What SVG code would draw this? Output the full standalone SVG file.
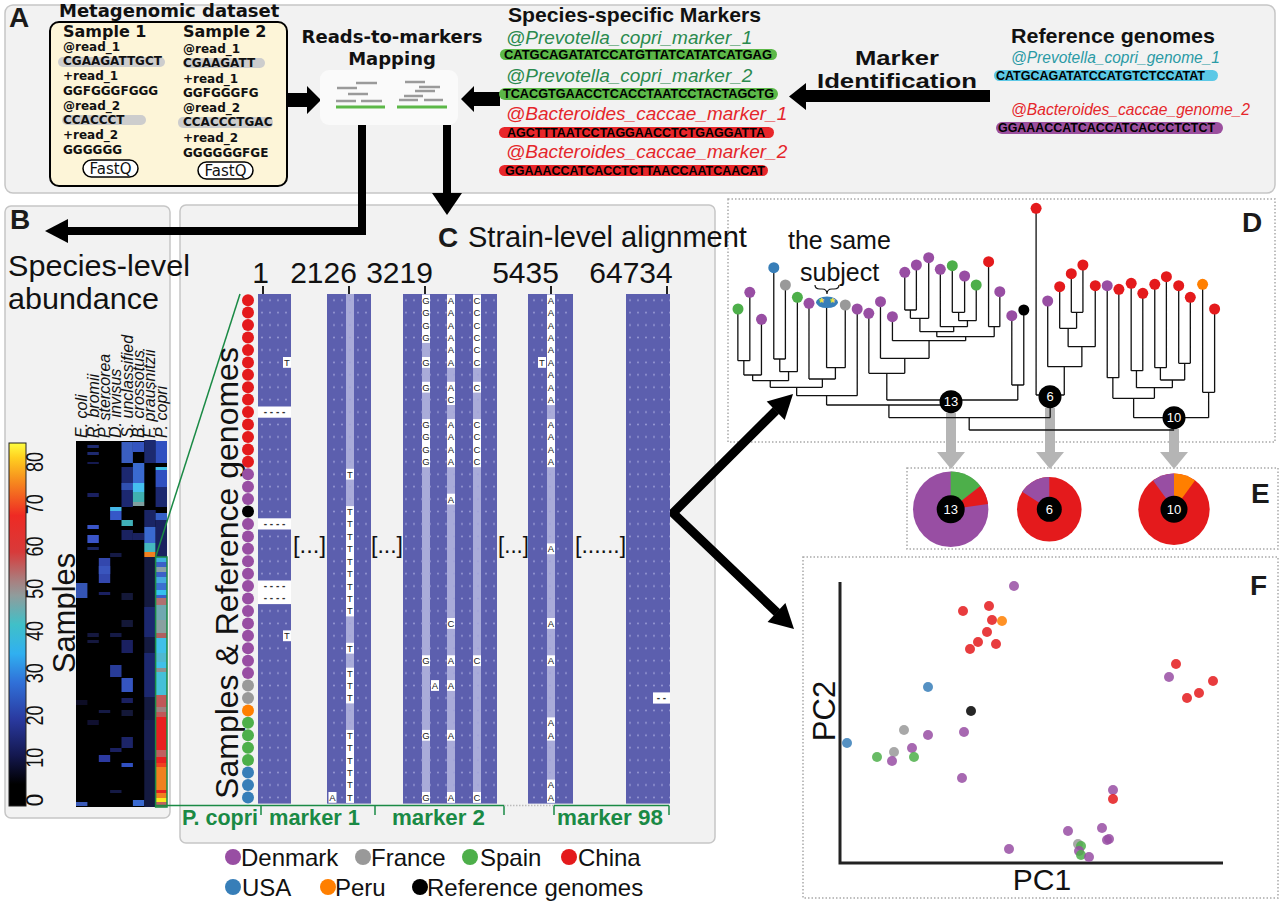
<svg xmlns="http://www.w3.org/2000/svg" width="1280" height="903" viewBox="0 0 1280 903">
<defs>
<style>
.panel{fill:#f2f2f2;stroke:#c6c6c6;stroke-width:1.5}
.dotbox{fill:none;stroke:#a9a9a9;stroke-width:1.5;stroke-dasharray:1.5 2}
.plab{font-family:"Liberation Sans",Arial,sans-serif;font-weight:bold;font-size:28px;fill:#1a1a1a}
.dj{font-family:"DejaVu Sans",sans-serif;font-weight:bold;fill:#111}
.ls{font-family:"Liberation Sans",Arial,sans-serif;fill:#111}
.lsb{font-family:"Liberation Sans",Arial,sans-serif;font-weight:bold;fill:#111}
.it{font-family:"Liberation Sans",Arial,sans-serif;font-style:italic}
.seq{font-family:"Liberation Sans",Arial,sans-serif;font-weight:bold;font-size:12.5px;fill:#000}
.blk{fill:#5c5fae}
.lc{fill:#a9abd9}
.wc{fill:#fff}
.let{font-family:"Liberation Sans",Arial,sans-serif;font-size:9.5px;fill:#222;text-anchor:middle}
.gap{font-family:"Liberation Sans",Arial,sans-serif;font-size:10px;fill:#333;text-anchor:middle;font-weight:bold}
.tree{fill:none;stroke:#111;stroke-width:1.3}
.grn{font-family:"Liberation Sans",Arial,sans-serif;font-weight:bold;font-size:22px;fill:#1a8a45}
.leg{font-family:"Liberation Sans",Arial,sans-serif;font-size:24px;fill:#111}
.num{font-family:"Liberation Sans",Arial,sans-serif;font-size:30px;fill:#111;text-anchor:middle}
.cb{font-family:"Liberation Sans",Arial,sans-serif;font-size:23px;fill:#111;text-anchor:middle}
.sp{font-family:"Liberation Sans",Arial,sans-serif;font-style:italic;font-size:16px;fill:#111}
.nd{font-family:"Liberation Sans",Arial,sans-serif;font-size:13px;fill:#fff;text-anchor:middle}
.gray{fill:#b5b5b5}
.pr{fill:#984ea3}.rd{fill:#e41a1c}.gn{fill:#4daf4a}.bl{fill:#377eb8}.or{fill:#ff7f00}.gy{fill:#999999}.bk{fill:#000}
.pts circle{fill-opacity:0.85}
</style>
<pattern id="dots" x="258" y="294" width="8" height="12.43" patternUnits="userSpaceOnUse"><circle cx="4" cy="6.2" r="0.9" fill="#9fa1d8"/></pattern>
<linearGradient id="cbar" x1="0" y1="0" x2="0" y2="1">
<stop offset="0" stop-color="#ffff40"/><stop offset="0.04" stop-color="#ffd020"/><stop offset="0.1" stop-color="#f7901e"/><stop offset="0.2" stop-color="#ee2a24"/><stop offset="0.3" stop-color="#d83a3a"/><stop offset="0.38" stop-color="#a88080"/><stop offset="0.42" stop-color="#909c9c"/><stop offset="0.5" stop-color="#40c0c8"/><stop offset="0.58" stop-color="#30b0f0"/><stop offset="0.66" stop-color="#3070d8"/><stop offset="0.76" stop-color="#2a3aa0"/><stop offset="0.86" stop-color="#141850"/><stop offset="0.94" stop-color="#000"/><stop offset="1" stop-color="#000"/>
</linearGradient>
</defs>
<rect width="1280" height="903" fill="#fff"/>

<!-- Panels -->
<rect id="panel-A" class="panel" x="5" y="5" width="1270" height="188" rx="8"/>
<rect id="panel-B" class="panel" x="5" y="206" width="165" height="612" rx="6"/>
<rect id="panel-C" class="panel" x="180" y="205" width="535" height="638" rx="6"/>
<rect id="panel-D" class="dotbox" x="728" y="199" width="547" height="243"/>
<rect id="panel-E" class="dotbox" x="907" y="468" width="371" height="81"/>
<rect id="panel-F" class="dotbox" x="803" y="557" width="475" height="341"/>

<text class="plab" x="9" y="27">A</text>
<text class="plab" x="10" y="229">B</text>
<text class="plab" x="1242" y="232" font-size="26">D</text>
<text class="plab" x="1251" y="503">E</text>
<text class="plab" x="1250" y="595">F</text>

<!-- connectors -->
<g id="connectors">
<polygon points="288,93 307,93 307,86 321,100 307,114 307,107 288,107" fill="#000"/>
<polygon points="500,92 474,92 474,86 461,99 474,112 474,106 500,106" fill="#000"/>
<polygon points="990,90 806,90 806,83 789,96.5 806,110 806,102 990,102" fill="#000"/>
<path d="M362,125V231H66" fill="none" stroke="#000" stroke-width="8"/>
<polygon points="68,219 45,231 68,243" fill="#000"/>
<path d="M447,125V194" fill="none" stroke="#000" stroke-width="8"/>
<polygon points="432,193 462,193 447,215" fill="#000"/>
<path d="M776,410.5L673,513L777,612.5" fill="none" stroke="#000" stroke-width="9"/>
<polygon points="793,394 766.7,401.4 784.7,420" fill="#000"/>
<polygon points="794,629 767.6,622.1 785.4,603.1" fill="#000"/>
<rect class="gray" x="946" y="413" width="10" height="40"/><polygon class="gray" points="937,452 965,452 951,469"/>
<rect class="gray" x="1045" y="408" width="10" height="45"/><polygon class="gray" points="1036,452 1064,452 1050,469"/>
<rect class="gray" x="1169" y="429" width="10" height="24"/><polygon class="gray" points="1160,452 1188,452 1174,469"/>
</g>

<!-- Metagenomic dataset -->
<g id="node-metagenomic">
<text class="dj" x="59" y="17" font-size="18">Metagenomic dataset</text>
<rect x="50" y="22" width="237" height="164" rx="9" fill="#fdf5d8" stroke="#000" stroke-width="2"/>
<rect x="58" y="57" width="107" height="10" rx="5" fill="#cdcdcd"/>
<rect x="62" y="115" width="84" height="10" rx="5" fill="#cdcdcd"/>
<rect x="183" y="58" width="82" height="10" rx="5" fill="#cdcdcd"/>
<rect x="178" y="117" width="95" height="11" rx="5" fill="#cdcdcd"/>
<text class="dj" x="63" y="37" font-size="16">Sample 1</text>
<text class="dj" x="183" y="37" font-size="16">Sample 2</text>
<g class="dj" font-size="12">
<text x="63" y="51">@read_1</text><text x="63" y="65">CGAAGATTGCT</text><text x="63" y="80">+read_1</text><text x="63" y="95">GGFGGGFGGG</text><text x="63" y="110">@read_2</text><text x="63" y="124">CCACCCT</text><text x="63" y="139">+read_2</text><text x="63" y="154">GGGGGG</text>
<text x="183" y="53">@read_1</text><text x="183" y="67">CGAAGATT</text><text x="183" y="83">+read_1</text><text x="183" y="97">GGFGGGFG</text><text x="183" y="112">@read_2</text><text x="183" y="126">CCACCCTGAC</text><text x="183" y="142">+read_2</text><text x="183" y="157">GGGGGGFGE</text>
</g>
<rect x="83" y="160" width="55" height="17" rx="8.5" fill="#fff" stroke="#000" stroke-width="1.5"/>
<rect x="198" y="162" width="55" height="17" rx="8.5" fill="#fff" stroke="#000" stroke-width="1.5"/>
<text x="110.5" y="174" font-family="DejaVu Sans,sans-serif" font-size="15" text-anchor="middle" fill="#111">FastQ</text>
<text x="225.5" y="176" font-family="DejaVu Sans,sans-serif" font-size="15" text-anchor="middle" fill="#111">FastQ</text>
</g>

<!-- Mapping -->
<g id="node-mapping">
<text class="dj" x="392" y="43" font-size="18" text-anchor="middle">Reads-to-markers</text>
<text class="dj" x="392" y="65" font-size="18" text-anchor="middle">Mapping</text>
<rect x="320" y="70" width="138" height="55" rx="9" fill="#fafafa"/>
<g stroke="#9a9a9a" stroke-width="2.5">
<path d="M356,83H377M337,88H357M348,94H368M336,101H356M361,101H382"/>
<path d="M405,82H425M419,87H440M415,91H435M404,96H423M399,100H418M424,100H443"/>
</g>
<g stroke="#5cb848" stroke-width="3"><path d="M336,107H385M397,107H447"/></g>
</g>

<!-- Markers -->
<g id="node-markers">
<text class="lsb" x="508" y="22" font-size="21" textLength="253" lengthAdjust="spacingAndGlyphs">Species-specific Markers</text>
<text class="it" x="506" y="44" font-size="19" fill="#2a8a4e">@Prevotella_copri_marker_1</text>
<rect x="500" y="49" width="277" height="11" rx="5.5" fill="#5cb848"/>
<text class="seq" x="504" y="58.5" textLength="268" lengthAdjust="spacingAndGlyphs">CATGCAGATATCCATGTTATCATATCATGAG</text>
<text class="it" x="506" y="82" font-size="19" fill="#2a8a4e">@Prevotella_copri_marker_2</text>
<rect x="499" y="88" width="279" height="12" rx="6" fill="#5cb848"/>
<text class="seq" x="503" y="98" textLength="271" lengthAdjust="spacingAndGlyphs">TCACGTGAACCTCACCTAATCCTACTAGCTG</text>
<text class="it" x="506" y="120" font-size="19" fill="#e5262b">@Bacteroides_caccae_marker_1</text>
<rect x="499" y="127" width="275" height="11" rx="5.5" fill="#e8262a"/>
<text class="seq" x="507" y="136.5" textLength="258" lengthAdjust="spacingAndGlyphs">AGCTTTAATCCTAGGAACCTCTGAGGATTA</text>
<text class="it" x="506" y="158" font-size="19" fill="#e5262b">@Bacteroides_caccae_marker_2</text>
<rect x="499" y="165" width="269" height="11" rx="5.5" fill="#e8262a"/>
<text class="seq" x="505" y="174.5" textLength="260" lengthAdjust="spacingAndGlyphs">GGAAACCATCACCTCTTAACCAATCAACAT</text>
</g>

<g id="node-marker-identification">
<text class="lsb" x="897" y="65" font-size="21" text-anchor="middle" textLength="84" lengthAdjust="spacingAndGlyphs">Marker</text>
<text class="lsb" x="897" y="88" font-size="21" text-anchor="middle" textLength="160" lengthAdjust="spacingAndGlyphs">Identification</text>
</g>

<g id="node-reference">
<text class="lsb" x="1011" y="43" font-size="21" textLength="204" lengthAdjust="spacingAndGlyphs">Reference genomes</text>
<text class="it" x="1011" y="63" font-size="16" fill="#2a9aa5" textLength="209" lengthAdjust="spacingAndGlyphs">@Prevotella_copri_genome_1</text>
<rect x="994" y="70" width="224" height="11" rx="5.5" fill="#5cc8e6"/>
<text class="seq" x="996" y="79.5" textLength="209" lengthAdjust="spacingAndGlyphs">CATGCAGATATCCATGTCTCCATAT</text>
<text class="it" x="1011" y="115" font-size="17" fill="#e5262b" textLength="239" lengthAdjust="spacingAndGlyphs">@Bacteroides_caccae_genome_2</text>
<rect x="996" y="122" width="227" height="12" rx="6" fill="#9b4f9e"/>
<text class="seq" x="998" y="132" textLength="217" lengthAdjust="spacingAndGlyphs">GGAAACCATCACCATCACCCTCTCT</text>
</g>

<!-- Panel B -->
<g id="node-species-abundance">
<text class="ls" x="8" y="276" font-size="29" textLength="182" lengthAdjust="spacingAndGlyphs">Species-level</text>
<text class="ls" x="8" y="309" font-size="29" textLength="151" lengthAdjust="spacingAndGlyphs">abundance</text>
<rect x="9" y="443" width="17" height="363" fill="url(#cbar)" stroke="#222" stroke-width="1"/>
<g class="cb">
<text transform="translate(43,800) rotate(-90)">0</text>
<text transform="translate(43,757.8) rotate(-90)" textLength="20" lengthAdjust="spacingAndGlyphs">10</text>
<text transform="translate(43,715.5) rotate(-90)" textLength="20" lengthAdjust="spacingAndGlyphs">20</text>
<text transform="translate(43,673.3) rotate(-90)" textLength="20" lengthAdjust="spacingAndGlyphs">30</text>
<text transform="translate(43,631) rotate(-90)" textLength="20" lengthAdjust="spacingAndGlyphs">40</text>
<text transform="translate(43,588.8) rotate(-90)" textLength="20" lengthAdjust="spacingAndGlyphs">50</text>
<text transform="translate(43,546.5) rotate(-90)" textLength="20" lengthAdjust="spacingAndGlyphs">60</text>
<text transform="translate(43,504.3) rotate(-90)" textLength="20" lengthAdjust="spacingAndGlyphs">70</text>
<text transform="translate(43,462) rotate(-90)" textLength="20" lengthAdjust="spacingAndGlyphs">80</text>
</g>
<text class="ls" font-size="31" text-anchor="middle" transform="translate(75,613) rotate(-90)">Samples</text>
<g class="sp">
<text transform="translate(87,438) rotate(-90)">E. coli</text>
<text transform="translate(98.5,438) rotate(-90)">R. bromii</text>
<text transform="translate(110,438) rotate(-90)">P. stercorea</text>
<text transform="translate(121.3,438) rotate(-90)">D. invisus</text>
<text transform="translate(132.6,438) rotate(-90)">S. unclassified</text>
<text transform="translate(144,438) rotate(-90)">B. crossotus</text>
<text transform="translate(155.4,438) rotate(-90)">F. prausnitzii</text>
<text transform="translate(166.6,438) rotate(-90)">P. copri</text>
</g>
<rect x="76" y="441" width="91" height="366" fill="#000"/>
<g>
<rect x="76" y="583" width="11.4" height="15" fill="#3555b5"/><rect x="76" y="802" width="11.4" height="4" fill="#3a5ab8"/><rect x="76" y="700" width="11.4" height="5" fill="#0d0d25"/>
<rect x="87.4" y="445" width="11.4" height="3" fill="#1e2a70"/><rect x="87.4" y="452" width="11.4" height="3" fill="#1e2a70"/><rect x="87.4" y="462" width="11.4" height="2" fill="#151a50"/><rect x="87.4" y="493" width="11.4" height="4" fill="#1a2060"/><rect x="87.4" y="525" width="11.4" height="4" fill="#3a55c8"/><rect x="87.4" y="535" width="11.4" height="8" fill="#3a55c8"/><rect x="87.4" y="547" width="11.4" height="3" fill="#1a2560"/><rect x="87.4" y="633" width="11.4" height="4" fill="#15183f"/><rect x="87.4" y="640" width="11.4" height="3" fill="#15183f"/><rect x="87.4" y="720" width="11.4" height="5" fill="#101030"/>
<rect x="98.8" y="558" width="11.4" height="25" fill="#3347ad"/><rect x="98.8" y="566" width="11.4" height="8" fill="#3a55bd"/><rect x="98.8" y="592" width="11.4" height="3" fill="#1a2060"/><rect x="98.8" y="755" width="11.4" height="7" fill="#2c3aa0"/><rect x="98.8" y="710" width="11.4" height="3" fill="#151a45"/>
<rect x="110.1" y="507" width="11.4" height="4" fill="#45b8e8"/><rect x="110.1" y="511" width="11.4" height="9" fill="#3558c8"/><rect x="110.1" y="665" width="11.4" height="12" fill="#283c98"/><rect x="110.1" y="553" width="11.4" height="4" fill="#151a45"/><rect x="110.1" y="633" width="11.4" height="4" fill="#151a45"/><rect x="110.1" y="748" width="11.4" height="4" fill="#1a2060"/><rect x="110.1" y="790" width="11.4" height="3" fill="#151a45"/>
<rect x="121.5" y="442" width="11.4" height="21" fill="#3a5ec0"/><rect x="121.5" y="467" width="11.4" height="40" fill="#1c2870"/><rect x="121.5" y="483" width="11.4" height="7" fill="#3050b0"/><rect x="121.5" y="520" width="11.4" height="6" fill="#40b0b8"/><rect x="121.5" y="530" width="11.4" height="10" fill="#1a2260"/><rect x="121.5" y="593" width="11.4" height="7" fill="#141838"/><rect x="121.5" y="620" width="11.4" height="7" fill="#141838"/><rect x="121.5" y="640" width="11.4" height="13" fill="#1a2060"/><rect x="121.5" y="678" width="11.4" height="14" fill="#3555c0"/><rect x="121.5" y="698" width="11.4" height="5" fill="#1a2060"/><rect x="121.5" y="710" width="11.4" height="6" fill="#141838"/><rect x="121.5" y="737" width="11.4" height="11" fill="#1c2468"/><rect x="121.5" y="763" width="11.4" height="4" fill="#3050c0"/>
<rect x="132.9" y="442" width="11.4" height="10" fill="#3555c0"/><rect x="132.9" y="463" width="11.4" height="20" fill="#3a6ad0"/><rect x="132.9" y="483" width="11.4" height="9" fill="#45c0f0"/><rect x="132.9" y="492" width="11.4" height="10" fill="#40b0b0"/><rect x="132.9" y="502" width="11.4" height="4" fill="#80a0a0"/><rect x="132.9" y="533" width="11.4" height="7" fill="#1a2260"/><rect x="132.9" y="800" width="11.4" height="6" fill="#3a6ad0"/>
<rect x="144.3" y="440" width="11.4" height="23" fill="#1c2a70"/><rect x="144.3" y="510" width="11.4" height="17" fill="#1a2565"/><rect x="144.3" y="527" width="11.4" height="16" fill="#3a6ad0"/><rect x="144.3" y="543" width="11.4" height="9" fill="#45b8c0"/><rect x="144.3" y="552" width="11.4" height="5" fill="#f08020"/><rect x="144.3" y="557" width="11.4" height="250" fill="#141a40"/><rect x="144.3" y="607" width="11.4" height="30" fill="#1c2870"/><rect x="144.3" y="653" width="11.4" height="44" fill="#1c2870"/><rect x="144.3" y="720" width="11.4" height="40" fill="#181e50"/>
<rect x="155.6" y="441" width="11.4" height="22" fill="#3050c0"/><rect x="155.6" y="467" width="11.4" height="3" fill="#40c0e8"/><rect x="155.6" y="470" width="11.4" height="17" fill="#3050c0"/><rect x="155.6" y="487" width="11.4" height="20" fill="#1c2870"/><rect x="155.6" y="513" width="11.4" height="7" fill="#3560c8"/><rect x="155.6" y="520" width="11.4" height="37" fill="#1a2260"/>
<rect x="155.6" y="557" width="11.4" height="5" fill="#40b0e0"/><rect x="155.6" y="562" width="11.4" height="5" fill="#3a60c8"/><rect x="155.6" y="567" width="11.4" height="5" fill="#8aa0a8"/><rect x="155.6" y="572" width="11.4" height="5" fill="#3a60c8"/><rect x="155.6" y="577" width="11.4" height="6" fill="#45a8e0"/><rect x="155.6" y="583" width="11.4" height="7" fill="#3a70d0"/><rect x="155.6" y="590" width="11.4" height="5" fill="#35c0f0"/><rect x="155.6" y="595" width="11.4" height="3" fill="#3a60c8"/><rect x="155.6" y="598" width="11.4" height="7" fill="#b07070"/><rect x="155.6" y="605" width="11.4" height="15" fill="#70a8b0"/><rect x="155.6" y="620" width="11.4" height="13" fill="#8aa0a0"/><rect x="155.6" y="633" width="11.4" height="5" fill="#b06060"/><rect x="155.6" y="638" width="11.4" height="15" fill="#40c0e8"/><rect x="155.6" y="653" width="11.4" height="9" fill="#50b8d0"/><rect x="155.6" y="662" width="11.4" height="6" fill="#40c0e8"/><rect x="155.6" y="668" width="11.4" height="4" fill="#909090"/><rect x="155.6" y="672" width="11.4" height="23" fill="#45c0d8"/><rect x="155.6" y="695" width="11.4" height="12" fill="#c05858"/><rect x="155.6" y="707" width="11.4" height="5" fill="#a08080"/><rect x="155.6" y="712" width="11.4" height="5" fill="#c05858"/><rect x="155.6" y="717" width="11.4" height="33" fill="#e82020"/><rect x="155.6" y="750" width="11.4" height="7" fill="#c06060"/><rect x="155.6" y="757" width="11.4" height="6" fill="#e82020"/><rect x="155.6" y="763" width="11.4" height="4" fill="#f04020"/><rect x="155.6" y="767" width="11.4" height="23" fill="#f08020"/><rect x="155.6" y="790" width="11.4" height="3" fill="#e82020"/><rect x="155.6" y="793" width="11.4" height="5" fill="#f08020"/><rect x="155.6" y="798" width="11.4" height="4" fill="#f8e820"/><rect x="155.6" y="802" width="11.4" height="5" fill="#c06060"/>
</g>
<rect x="155.6" y="557" width="11.4" height="250" fill="none" stroke="#1a8a45" stroke-width="1.5"/>
</g>

<!-- Panel C -->
<g id="node-strain-alignment">
<text class="plab" x="438" y="247" font-size="29">C</text>
<text class="ls" x="468" y="247" font-size="29">Strain-level alignment</text>
<text class="num" x="260.5" y="283">1</text>
<text class="num" x="323.5" y="283">2126</text>
<text class="num" x="399.5" y="283">3219</text>
<text class="num" x="525.5" y="283">5435</text>
<text class="num" x="631" y="283">64734</text>
<path d="M263,286V294M349,286V294M425,286V294M551,286V294M667,286V294" stroke="#222" stroke-width="2"/>
<line x1="155.6" y1="557" x2="240" y2="294" stroke="#1a8a45" stroke-width="1.5"/>
<text class="ls" font-size="32" text-anchor="middle" transform="translate(238,573) rotate(-90)">Samples &amp; Reference genomes</text>
<g>
<rect class="blk" x="258" y="294" width="33" height="509.6"/>
<rect class="blk" x="327" y="294" width="44" height="509.6"/>
<rect class="blk" x="403" y="294" width="94" height="509.6"/>
<rect class="blk" x="528" y="294" width="45" height="509.6"/>
<rect class="blk" x="626" y="294" width="44" height="509.6"/>
<rect class="lc" x="346" y="294" width="8" height="509.6"/>
<rect class="lc" x="422" y="294" width="8" height="509.6"/>
<rect class="lc" x="447" y="294" width="8" height="509.6"/>
<rect class="lc" x="473" y="294" width="8" height="509.6"/>
<rect class="lc" x="547" y="294" width="8" height="509.6"/>
<rect x="258" y="294" width="33" height="509.6" fill="url(#dots)"/>
<rect x="327" y="294" width="44" height="509.6" fill="url(#dots)"/>
<rect x="403" y="294" width="94" height="509.6" fill="url(#dots)"/>
<rect x="528" y="294" width="45" height="509.6" fill="url(#dots)"/>
<rect x="626" y="294" width="44" height="509.6" fill="url(#dots)"/>
</g>
<g class="wc">
<rect x="258" y="406.5" width="33" height="11.2"/><rect x="258" y="518.3" width="33" height="11.2"/><rect x="258" y="580.5" width="33" height="23.6"/><rect x="653" y="692.4" width="17" height="11.2"/>
<rect x="283" y="357" width="8" height="10.8"/><rect x="283" y="630.4" width="8" height="10.8"/>
<rect x="328.5" y="792" width="8" height="10.8"/>
<rect x="346" y="468.8" width="8" height="10.8"/><rect x="346" y="506.1" width="8" height="110.3"/><rect x="346" y="642.8" width="8" height="10.8"/><rect x="346" y="667.7" width="8" height="35.7"/><rect x="346" y="729.9" width="8" height="73"/>
<rect x="422" y="294.8" width="8" height="48.1"/><rect x="422" y="357" width="8" height="10.8"/><rect x="422" y="381.8" width="8" height="10.8"/><rect x="422" y="419.1" width="8" height="48.1"/><rect x="422" y="655.3" width="8" height="10.8"/><rect x="422" y="729.9" width="8" height="10.8"/><rect x="422" y="792" width="8" height="10.8"/>
<rect x="447" y="294.8" width="8" height="73"/><rect x="447" y="381.8" width="8" height="23.2"/><rect x="447" y="419.1" width="8" height="48.1"/><rect x="447" y="493.7" width="8" height="10.8"/><rect x="447" y="618" width="8" height="10.8"/><rect x="447" y="655.3" width="8" height="10.8"/><rect x="447" y="680.1" width="8" height="10.8"/><rect x="447" y="729.9" width="8" height="10.8"/><rect x="447" y="792" width="8" height="10.8"/>
<rect x="431" y="680.1" width="8" height="10.8"/>
<rect x="473" y="294.8" width="8" height="73"/><rect x="473" y="381.8" width="8" height="10.8"/><rect x="473" y="419.1" width="8" height="48.1"/><rect x="473" y="655.3" width="8" height="10.8"/><rect x="473" y="792" width="8" height="10.8"/>
<rect x="547" y="294.8" width="8" height="110.3"/><rect x="547" y="419.1" width="8" height="48.1"/><rect x="547" y="543.4" width="8" height="10.8"/><rect x="547" y="618" width="8" height="10.8"/><rect x="547" y="655.3" width="8" height="10.8"/><rect x="547" y="717.4" width="8" height="23.2"/><rect x="547" y="779.6" width="8" height="23.2"/>
<rect x="538" y="357" width="8" height="10.8"/>
</g>
<g class="gap">
<text x="274.5" y="415">- - - -</text><text x="274.5" y="527">- - - -</text><text x="274.5" y="589">- - - -</text><text x="274.5" y="601">- - - -</text><text x="661.5" y="701">- -</text>
</g>
<g class="let">
<text x="287" y="365.8">T</text><text x="287" y="639.2">T</text>
<text x="332.5" y="800.8">A</text>
<text x="350" y="477.6">T</text><text x="350" y="514.9">T</text><text x="350" y="527.3">T</text><text x="350" y="539.8">T</text><text x="350" y="552.2">T</text><text x="350" y="564.6">T</text><text x="350" y="577.1">T</text><text x="350" y="589.5">T</text><text x="350" y="601.9">T</text><text x="350" y="614.4">T</text><text x="350" y="651.6">T</text><text x="350" y="676.5">T</text><text x="350" y="688.9">T</text><text x="350" y="701.4">T</text><text x="350" y="738.7">T</text><text x="350" y="751.1">T</text><text x="350" y="763.5">T</text><text x="350" y="775.9">T</text><text x="350" y="788.4">T</text><text x="350" y="800.8">T</text>
<text x="426" y="303.6">G</text><text x="426" y="316">G</text><text x="426" y="328.5">G</text><text x="426" y="340.9">G</text><text x="426" y="365.8">G</text><text x="426" y="390.6">G</text><text x="426" y="427.9">G</text><text x="426" y="440.3">G</text><text x="426" y="452.8">G</text><text x="426" y="465.2">G</text><text x="426" y="664.1">G</text><text x="426" y="738.7">G</text><text x="426" y="800.8">G</text>
<text x="451" y="303.6">A</text><text x="451" y="316">A</text><text x="451" y="328.5">A</text><text x="451" y="340.9">A</text><text x="451" y="353.3">A</text><text x="451" y="365.8">A</text><text x="451" y="390.6">A</text><text x="451" y="403">C</text><text x="451" y="427.9">A</text><text x="451" y="440.3">A</text><text x="451" y="452.8">A</text><text x="451" y="465.2">A</text><text x="451" y="502.5">A</text><text x="451" y="626.8">C</text><text x="451" y="664.1">A</text><text x="451" y="688.9">A</text><text x="451" y="738.7">A</text><text x="451" y="800.8">A</text>
<text x="435" y="688.9">A</text>
<text x="477" y="303.6">C</text><text x="477" y="316">C</text><text x="477" y="328.5">C</text><text x="477" y="340.9">C</text><text x="477" y="353.3">C</text><text x="477" y="365.8">C</text><text x="477" y="390.6">C</text><text x="477" y="427.9">C</text><text x="477" y="440.3">C</text><text x="477" y="452.8">C</text><text x="477" y="465.2">C</text><text x="477" y="664.1">C</text><text x="477" y="800.8">C</text>
<text x="551" y="303.6">A</text><text x="551" y="316">A</text><text x="551" y="328.5">A</text><text x="551" y="340.9">A</text><text x="551" y="353.3">A</text><text x="551" y="365.8">A</text><text x="551" y="378.2">A</text><text x="551" y="390.6">A</text><text x="551" y="403">A</text><text x="551" y="427.9">A</text><text x="551" y="440.3">A</text><text x="551" y="452.8">A</text><text x="551" y="465.2">A</text><text x="551" y="552.2">A</text><text x="551" y="626.8">A</text><text x="551" y="664.1">A</text><text x="551" y="726.2">A</text><text x="551" y="738.7">A</text><text x="551" y="788.4">A</text><text x="551" y="800.8">A</text>
<text x="542" y="365.8">T</text>
</g>
<g class="ls" font-size="24">
<text x="293" y="553" textLength="33" lengthAdjust="spacingAndGlyphs">[...]</text>
<text x="371" y="553" textLength="32" lengthAdjust="spacingAndGlyphs">[...]</text>
<text x="498" y="553" textLength="31" lengthAdjust="spacingAndGlyphs">[...]</text>
<text x="575" y="553" textLength="51" lengthAdjust="spacingAndGlyphs">[......]</text>
</g>
<g>
<circle class="rd" cx="248" cy="300.2" r="6"/><circle class="rd" cx="248" cy="312.6" r="6"/><circle class="rd" cx="248" cy="325.1" r="6"/><circle class="rd" cx="248" cy="337.5" r="6"/><circle class="rd" cx="248" cy="349.9" r="6"/><circle class="rd" cx="248" cy="362.4" r="6"/><circle class="rd" cx="248" cy="374.8" r="6"/><circle class="rd" cx="248" cy="387.2" r="6"/><circle class="rd" cx="248" cy="399.6" r="6"/><circle class="rd" cx="248" cy="412.1" r="6"/><circle class="rd" cx="248" cy="424.5" r="6"/><circle class="rd" cx="248" cy="436.9" r="6"/><circle class="rd" cx="248" cy="449.4" r="6"/><circle class="rd" cx="248" cy="461.8" r="6"/>
<circle class="pr" cx="248" cy="474.2" r="6"/><circle class="pr" cx="248" cy="486.7" r="6"/><circle class="pr" cx="248" cy="499.1" r="6"/>
<circle class="bk" cx="248" cy="511.5" r="6"/>
<circle class="pr" cx="248" cy="524" r="6"/><circle class="pr" cx="248" cy="536.4" r="6"/><circle class="pr" cx="248" cy="548.8" r="6"/><circle class="pr" cx="248" cy="561.2" r="6"/><circle class="pr" cx="248" cy="573.7" r="6"/><circle class="pr" cx="248" cy="586.1" r="6"/><circle class="pr" cx="248" cy="598.5" r="6"/><circle class="pr" cx="248" cy="611" r="6"/><circle class="pr" cx="248" cy="623.4" r="6"/><circle class="pr" cx="248" cy="635.8" r="6"/><circle class="pr" cx="248" cy="648.2" r="6"/><circle class="pr" cx="248" cy="660.7" r="6"/><circle class="pr" cx="248" cy="673.1" r="6"/>
<circle class="gy" cx="248" cy="685.5" r="6"/><circle class="gy" cx="248" cy="698" r="6"/>
<circle class="or" cx="248" cy="710.4" r="6"/>
<circle class="gn" cx="248" cy="722.8" r="6"/><circle class="gn" cx="248" cy="735.2" r="6"/><circle class="gn" cx="248" cy="747.7" r="6"/><circle class="gn" cx="248" cy="760.1" r="6"/>
<circle class="bl" cx="248" cy="772.5" r="6"/><circle class="bl" cx="248" cy="785" r="6"/><circle class="bl" cx="248" cy="797.4" r="6"/>
</g>
<path d="M155.6,805.5H504M554,805.5H669M261,805.5V815M375,805.5V815M504,805.5V815M554,805.5V815M669,805.5V815" fill="none" stroke="#1a8a45" stroke-width="1.5"/>
<path d="M504,805.5H554" stroke="#bbb" stroke-width="1.5" stroke-dasharray="1.5 1.5"/>
<text class="grn" x="182" y="825" textLength="76" lengthAdjust="spacingAndGlyphs" font-weight="normal">P. copri</text>
<text class="grn" x="269" y="825" textLength="91" lengthAdjust="spacingAndGlyphs">marker 1</text>
<text class="grn" x="392" y="825" textLength="93" lengthAdjust="spacingAndGlyphs">marker 2</text>
<text class="grn" x="557" y="825" textLength="106" lengthAdjust="spacingAndGlyphs">marker 98</text>
</g>

<!-- Legend -->
<g id="legend">
<circle class="pr" cx="233" cy="857" r="8"/><text class="leg" x="241" y="866">Denmark</text>
<circle class="gy" cx="363" cy="857" r="8"/><text class="leg" x="371" y="866">France</text>
<circle class="gn" cx="470" cy="857" r="8"/><text class="leg" x="480" y="866">Spain</text>
<circle class="rd" cx="569" cy="857" r="8"/><text class="leg" x="578" y="866">China</text>
<circle class="bl" cx="233" cy="887" r="8"/><text class="leg" x="242" y="896">USA</text>
<circle class="or" cx="328" cy="887" r="8"/><text class="leg" x="335" y="896">Peru</text>
<circle class="bk" cx="420" cy="887" r="8"/><text class="leg" x="427" y="896">Reference genomes</text>
</g>

<!-- Panel D tree -->
<g id="node-tree">
<text class="ls" x="788" y="249" font-size="25">the same</text>
<text class="ls" x="800" y="281" font-size="25">subject</text>
<path d="M815,285q0,4 5,4h2q5,0 5,5q0,-5 5,-5h2q5,0 5,-4" fill="none" stroke="#111" stroke-width="1.2"/>
<g transform="translate(728,195) scale(0.35211,0.33333)">
<path class="tree" vector-effect="non-scaling-stroke" d="M28,342V497M62,292V497M28,497H62M45,497V540M95,373V540M45,540H95M70,540V557M130,218V492M163,270V492M130,492H163M147,492V530M197,307V530M147,530H197M172,530V557M70,557H172M120,557V577M230,325V552M280,330V518M333,330V518M280,518H333M305,518V552M230,552H305M268,552V577M120,577H268M195,577V602M367,342V602M195,602H367M280,602V630M280,630H633M400,355V535M433,320V490M467,365V437M502,232V345M535,210V345M502,345H535M518,345V370M570,188V370M518,370H570M545,370V410M637,212V352M672,243V352M637,352H672M655,352V377M705,270V377M655,377H705M680,377V395M603,223V395M603,395H680M641,395V410M545,410H641M593,410V425M740,200V395M772,290V395M740,395H772M756,395V425M593,425H756M675,425V437M467,437H675M571,437V490M433,490H571M502,490V535M400,535H502M451,535V615M806,362V570M840,345V570M806,570H840M823,570V615M451,615H823M457,630V668M457,668H915M685,668V705M685,705H1267M875,40V600M908,318V515M942,275V400M975,236V352M1008,210V352M975,352H1008M990,352V400M942,400H990M966,400V455M1043,272V455M966,455H1043M1005,455V515M908,515H1005M955,515V600M875,600H955M915,600V668M1077,272V548M1110,283V548M1077,548H1110M1093,548V610M1145,265V527M1178,295V527M1145,527H1178M1160,527V578M1212,268V518M1245,245V518M1212,518H1245M1228,518V555M1280,272V505M1313,307V505M1280,505H1313M1297,505V555M1228,555H1297M1262,555V578M1160,578H1262M1211,578V610M1093,610H1211M1152,610V668M1348,268V592M1382,342V592M1348,592H1382M1365,592V668M1152,668H1365"/>
</g>
<g>
<circle class="gn" cx="738" cy="309" r="5.5"/><circle class="pr" cx="749.8" cy="292.3" r="5.5"/><circle class="pr" cx="761.5" cy="319.3" r="5.5"/><circle class="bl" cx="773.8" cy="267.7" r="5.5"/><circle class="gy" cx="785.4" cy="285" r="5.5"/><circle class="gn" cx="797.4" cy="297.3" r="5.5"/><circle class="pr" cx="809" cy="303.3" r="5.5"/>
<ellipse class="bl" cx="827" cy="302.3" rx="11" ry="5.8"/>
<circle class="gy" cx="845.3" cy="305" r="5.5"/><circle class="pr" cx="857.2" cy="309" r="5.5"/><circle class="pr" cx="868.8" cy="313.3" r="5.5"/><circle class="pr" cx="880.5" cy="301.7" r="5.5"/><circle class="pr" cx="892.4" cy="316.7" r="5.5"/><circle class="pr" cx="904.8" cy="272.3" r="5.5"/><circle class="pr" cx="916.4" cy="265" r="5.5"/><circle class="pr" cx="928.7" cy="257.7" r="5.5"/><circle class="pr" cx="940.3" cy="269.3" r="5.5"/><circle class="gn" cx="952.3" cy="265.7" r="5.5"/><circle class="pr" cx="964.6" cy="276" r="5.5"/><circle class="gn" cx="976.2" cy="285" r="5.5"/><circle class="rd" cx="988.6" cy="261.7" r="5.5"/><circle class="pr" cx="999.8" cy="291.7" r="5.5"/><circle class="pr" cx="1011.8" cy="315.7" r="5.5"/><circle class="bk" cx="1023.8" cy="310" r="5.5"/><circle class="rd" cx="1036.1" cy="208.3" r="5.5"/><circle class="pr" cx="1047.7" cy="301" r="5.5"/><circle class="rd" cx="1059.7" cy="286.7" r="5.5"/><circle class="rd" cx="1071.3" cy="273.7" r="5.5"/><circle class="rd" cx="1082.9" cy="265" r="5.5"/><circle class="rd" cx="1095.3" cy="285.7" r="5.5"/><circle class="pr" cx="1107.2" cy="285.7" r="5.5"/><circle class="rd" cx="1118.9" cy="289.3" r="5.5"/><circle class="rd" cx="1131.2" cy="283.3" r="5.5"/><circle class="rd" cx="1142.8" cy="293.3" r="5.5"/><circle class="rd" cx="1154.8" cy="284.3" r="5.5"/><circle class="rd" cx="1166.4" cy="276.7" r="5.5"/><circle class="rd" cx="1178.7" cy="285.7" r="5.5"/><circle class="rd" cx="1190.3" cy="297.3" r="5.5"/><circle class="or" cx="1202.6" cy="284.3" r="5.5"/><circle class="rd" cx="1214.6" cy="309" r="5.5"/>
</g>
<text x="821.5" y="307" font-family="Liberation Sans,Arial,sans-serif" font-weight="bold" font-size="13" fill="#f5e642" text-anchor="middle">*</text>
<text x="832.5" y="307" font-family="Liberation Sans,Arial,sans-serif" font-weight="bold" font-size="13" fill="#f5e642" text-anchor="middle">*</text>
<circle cx="951" cy="401.7" r="11.5" fill="#000"/><text class="nd" x="951" y="406.3">13</text>
<circle cx="1050" cy="396.7" r="11.5" fill="#000"/><text class="nd" x="1050" y="401.3">6</text>
<circle cx="1174" cy="417.7" r="11.5" fill="#000"/><text class="nd" x="1174" y="422.3">10</text>
</g>

<!-- Panel E pies -->
<g id="node-pie-13">
<circle class="pr" cx="950.7" cy="509.3" r="37.7"/>
<path class="gn" d="M950.7,509.3L950.7,471.6A37.7,37.7 0 0 1 980.4,486.1Z"/>
<path class="rd" d="M950.7,509.3L980.4,486.1A37.7,37.7 0 0 1 988,504.1Z"/>
<circle cx="950.7" cy="509.3" r="14" fill="#000"/><text class="nd" x="950.7" y="514">13</text>
</g>
<g id="node-pie-6">
<circle class="rd" cx="1049.3" cy="509.3" r="32.3"/>
<path class="pr" d="M1049.3,509.3L1022.2,491.7A32.3,32.3 0 0 1 1049.3,477Z"/>
<circle cx="1049.3" cy="509.3" r="12.5" fill="#000"/><text class="nd" x="1049.3" y="514">6</text>
</g>
<g id="node-pie-10">
<circle class="rd" cx="1174" cy="509.3" r="35.7"/>
<path class="pr" d="M1174,509.3L1153,480.4A35.7,35.7 0 0 1 1174,473.6Z"/>
<path class="or" d="M1174,509.3L1174,473.6A35.7,35.7 0 0 1 1195,480.4Z"/>
<circle cx="1174" cy="509.3" r="13.5" fill="#000"/><text class="nd" x="1174" y="514">10</text>
</g>

<!-- Panel F PCA -->
<g id="node-pca">
<path d="M840,582V863H1223" fill="none" stroke="#222" stroke-width="3"/>
<text class="ls" font-size="31" text-anchor="middle" transform="translate(835,711) rotate(-90)">PC2</text>
<text class="ls" font-size="30" x="1042" y="890" text-anchor="middle">PC1</text>
<g class="pts">
<circle class="pr" cx="1014" cy="586" r="5"/><circle class="rd" cx="963" cy="611" r="5"/><circle class="rd" cx="989" cy="606" r="5"/><circle class="rd" cx="992" cy="620" r="5"/><circle class="or" cx="1002" cy="621" r="5"/><circle class="rd" cx="987" cy="632" r="5"/><circle class="rd" cx="978" cy="642" r="5"/><circle class="rd" cx="970" cy="649" r="5"/><circle class="rd" cx="996" cy="644" r="5"/>
<circle class="rd" cx="1176" cy="664" r="5"/><circle class="pr" cx="1169" cy="677" r="5"/><circle class="rd" cx="1213" cy="681" r="5"/><circle class="rd" cx="1199" cy="693" r="5"/><circle class="rd" cx="1187" cy="698" r="5"/>
<circle class="bl" cx="928" cy="687" r="5"/><circle class="bk" cx="971" cy="711" r="5"/><circle class="gy" cx="904" cy="730" r="5"/><circle class="pr" cx="964" cy="732" r="5"/><circle class="pr" cx="928" cy="735" r="5"/><circle class="bl" cx="847" cy="743" r="5"/><circle class="pr" cx="912" cy="748" r="5"/><circle class="gy" cx="894" cy="752" r="5"/><circle class="gn" cx="877" cy="757" r="5"/><circle class="gn" cx="914" cy="757" r="5"/><circle class="pr" cx="892" cy="761" r="5"/><circle class="pr" cx="962" cy="778" r="5"/>
<circle class="pr" cx="1113" cy="790" r="5"/><circle class="rd" cx="1113" cy="799" r="5"/><circle class="pr" cx="1068" cy="831" r="5"/><circle class="pr" cx="1102" cy="828" r="5"/><circle class="pr" cx="1107" cy="840" r="5"/><circle class="pr" cx="1109" cy="839" r="5"/><circle class="pr" cx="1009" cy="849" r="5"/><circle class="gy" cx="1078" cy="844" r="5"/><circle class="gn" cx="1081" cy="846" r="5"/><circle class="pr" cx="1079" cy="851" r="5"/><circle class="gn" cx="1081" cy="855" r="5"/><circle class="pr" cx="1089" cy="857" r="5"/>
</g>
</g>
</svg>
